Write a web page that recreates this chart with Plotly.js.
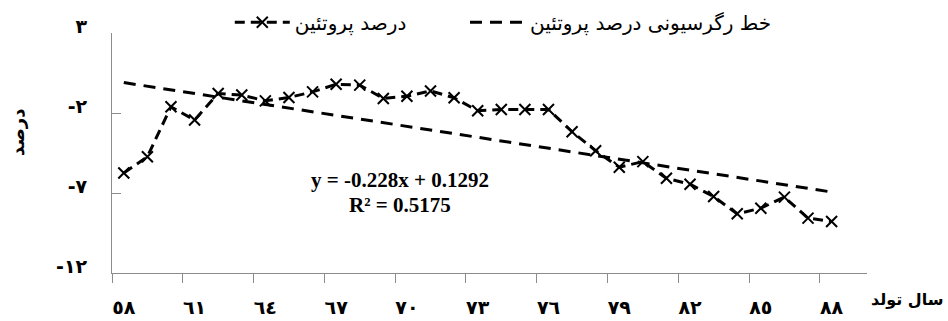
<!DOCTYPE html>
<html>
<head>
<meta charset="utf-8">
<script src="https://cdn.plot.ly/plotly-3.0.1.min.js"></script>
<style>
  html, body { margin: 0; padding: 0; background: #ffffff; }
  #chart { width: 948px; height: 321px; }
</style>
</head>
<body>
<div id="chart"></div>
<script>
// Birth years (solar calendar) and protein percentage for each year
const birthYears = [58, 59, 60, 61, 62, 63, 64, 65, 66, 67, 68, 69, 70, 71, 72, 73,
                    74, 75, 76, 77, 78, 79, 80, 81, 82, 83, 84, 85, 86, 87, 88];
const proteinPct = [-5.75, -4.73, -1.61, -2.44, -0.78, -0.88, -1.24, -1.03, -0.68, -0.20,
                    -0.26, -1.09, -0.95, -0.62, -1.05, -1.86, -1.78, -1.78, -1.78, -3.17,
                    -4.36, -5.39, -5.04, -6.08, -6.45, -7.22, -8.30, -7.95, -7.26, -8.57, -8.78];

// Linear regression line (x = position of the year in the series, starting at 1)
const trendSlope = -0.228;
const trendIntercept = 0.1292;
const trendR2 = 0.5175;

// Axis tick labels
const xTickVals = [58, 61, 64, 67, 70, 73, 76, 79, 82, 85, 88];
const xTickText = ['٥٨', '٦١', '٦٤', '٦٧', '٧٠', '٧٣', '٧٦', '٧٩', '٨٢', '٨٥', '٨٨'];
const yTickVals = [3, -2, -7, -12];
const yTickText = ['٣', '-٢', '-٧', '-١٢'];

const seriesName = 'درصد پروتئین';
const trendName = 'خط رگرسیونی درصد پروتئین';
const xTitle = 'سال تولد';
const yTitle = 'درصد';

const firstYear = birthYears[0];
const lastYear = birthYears[birthYears.length - 1];
const trendX = [firstYear, lastYear];
const trendY = trendX.map(yr => trendSlope * (yr - firstYear + 1) + trendIntercept);

const fmt = v => (v < 0 ? '-' : '') + Math.abs(v).toString();
const eqText = 'y = ' + fmt(trendSlope) + 'x + ' + trendIntercept;
const r2Text = 'R² = ' + trendR2;

const arabicFont = 'DejaVu Sans, sans-serif';
const serifFont = 'Liberation Serif, Times New Roman, serif';
const axisGray = '#8c8c8c';

const traces = [
  {
    x: birthYears,
    y: proteinPct,
    name: seriesName,
    legend: 'legend',
    type: 'scatter',
    mode: 'lines+markers',
    line: { color: '#000000', width: 3, dash: '10px,6px' },
    marker: { symbol: 'x-thin-open', size: 11, color: '#000000', line: { color: '#000000', width: 2 } }
  },
  {
    x: trendX,
    y: trendY,
    name: trendName,
    legend: 'legend2',
    type: 'scatter',
    mode: 'lines',
    line: { color: '#000000', width: 3, dash: '12px,8px' }
  }
];

const legendFont = { family: arabicFont, size: 20, color: '#000000' };

const layout = {
  width: 948,
  height: 321,
  margin: { l: 112, r: 81, t: 33, b: 48, autoexpand: false },
  paper_bgcolor: '#ffffff',
  plot_bgcolor: '#ffffff',
  showlegend: true,
  legend: {
    orientation: 'h',
    x: 0.156, xanchor: 'left',
    y: 1.045, yanchor: 'middle',
    itemwidth: 55,
    font: legendFont,
    bgcolor: 'rgba(0,0,0,0)'
  },
  legend2: {
    orientation: 'h',
    x: 0.4675, xanchor: 'left',
    y: 1.045, yanchor: 'middle',
    itemwidth: 55,
    font: legendFont,
    bgcolor: 'rgba(0,0,0,0)'
  },
  xaxis: {
    range: [57.5, 89.5],
    showgrid: false,
    zeroline: false,
    showline: true,
    linecolor: axisGray,
    linewidth: 1,
    tickmode: 'array',
    tickvals: xTickVals,
    ticktext: xTickText,
    ticks: '',
    ticklabelstandoff: 17,
    tickfont: { family: arabicFont, size: 19, color: '#000000', weight: 'bold' },
    minor: { ticks: 'outside', ticklen: 9, tickcolor: axisGray, tickwidth: 1, tick0: 57.5, dtick: 3, showgrid: false }
  },
  yaxis: {
    range: [-12, 3],
    showgrid: false,
    zeroline: false,
    showline: true,
    linecolor: axisGray,
    linewidth: 1,
    tickmode: 'array',
    tickvals: yTickVals,
    ticktext: yTickText,
    ticks: 'inside',
    ticklen: 9,
    tickcolor: axisGray,
    ticklabelstandoff: 20,
    ticklabelshift: -7,
    tickfont: { family: arabicFont, size: 19, color: '#000000', weight: 'bold' }
  },
  annotations: [
    {
      text: eqText, xref: 'paper', yref: 'paper', x: 0.381, y: 0.388,
      xanchor: 'center', yanchor: 'middle', showarrow: false,
      font: { family: serifFont, size: 21, color: '#000000', weight: 'bold' }
    },
    {
      text: r2Text, xref: 'paper', yref: 'paper', x: 0.381, y: 0.284,
      xanchor: 'center', yanchor: 'middle', showarrow: false,
      font: { family: serifFont, size: 21, color: '#000000', weight: 'bold' }
    },
    {
      text: xTitle, xref: 'paper', yref: 'paper', x: 1.103, y: -0.111,
      xanchor: 'right', yanchor: 'middle', showarrow: false,
      font: { family: arabicFont, size: 16, color: '#000000', weight: 'bold' }
    },
    {
      text: yTitle, xref: 'paper', yref: 'paper', x: -0.126, y: 0.587,
      xanchor: 'center', yanchor: 'middle', showarrow: false, textangle: -90,
      font: { family: arabicFont, size: 18, color: '#000000', weight: 'bold' }
    }
  ]
};

Plotly.newPlot('chart', traces, layout, { displayModeBar: false, staticPlot: true });
</script>
</body>
</html>
